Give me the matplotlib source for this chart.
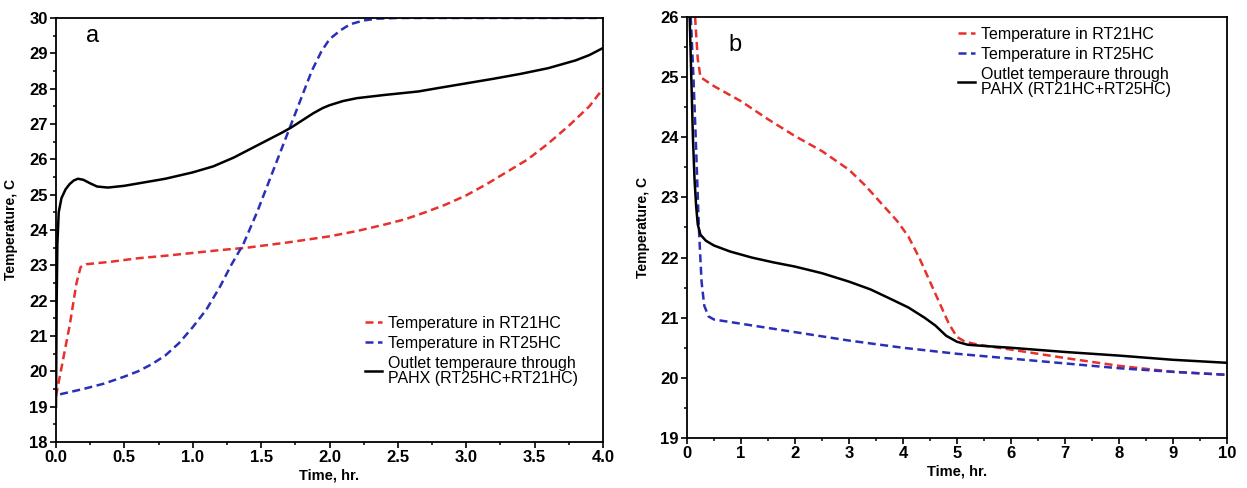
import matplotlib
matplotlib.use("Agg")
import matplotlib.pyplot as plt
from matplotlib.ticker import MultipleLocator, AutoMinorLocator

plt.rcParams['font.family'] = ['Liberation Sans', 'DejaVu Sans']

# --- (a) charging: time [hr] vs temperature [C] ---
t_a_black = [0.0, 0.005, 0.01, 0.02, 0.04, 0.07, 0.1, 0.13, 0.16, 0.2, 0.25, 0.3, 0.38, 0.5, 0.65,
             0.8, 1.0, 1.15, 1.3, 1.45, 1.55, 1.65, 1.72, 1.8, 1.88, 1.95, 2.0, 2.1, 2.2, 2.4,
             2.65, 2.8, 3.0, 3.2, 3.4, 3.6, 3.8, 3.9, 4.0]
T_a_black = [19.0, 22.0, 23.6, 24.5, 24.9, 25.15, 25.3, 25.4, 25.45, 25.42, 25.32, 25.23, 25.2, 25.25, 25.35,
             25.45, 25.63, 25.8, 26.05, 26.35, 26.55, 26.75, 26.9, 27.1, 27.3, 27.45, 27.53, 27.65, 27.73, 27.82,
             27.92, 28.02, 28.15, 28.28, 28.42, 28.58, 28.8, 28.95, 29.15]

t_a_red = [0.0, 0.05, 0.1, 0.15, 0.18, 0.22, 0.4, 0.6, 0.8, 1.0, 1.2, 1.4, 1.7, 2.0, 2.2, 2.4, 2.55,
           2.7, 2.85, 3.0, 3.15, 3.3, 3.45, 3.6, 3.75, 3.9, 4.0]
T_a_red = [19.3, 20.3, 21.3, 22.5, 22.95, 23.03, 23.1, 23.2, 23.27, 23.35, 23.43, 23.5, 23.65, 23.82, 23.97, 24.15, 24.3,
           24.5, 24.72, 24.98, 25.3, 25.65, 26.0, 26.45, 26.95, 27.5, 28.0]

t_a_blue = [0.03, 0.2, 0.35, 0.5, 0.6, 0.7, 0.8, 0.9, 1.0, 1.1, 1.2, 1.28, 1.37, 1.47, 1.57,
            1.67, 1.73, 1.8, 1.87, 1.94, 2.0, 2.08, 2.15, 2.25, 2.35, 2.5, 3.0, 4.0]
T_a_blue = [19.35, 19.5, 19.65, 19.85, 20.0, 20.2, 20.45, 20.8, 21.25, 21.75, 22.4, 23.0, 23.6, 24.5, 25.5,
            26.5, 27.1, 27.8, 28.5, 29.05, 29.4, 29.65, 29.82, 29.93, 29.98, 30.0, 30.0, 30.0]

# --- (b) discharging ---
t_b_black = [0.05, 0.08, 0.11, 0.14, 0.17, 0.2, 0.25, 0.35, 0.5, 0.8, 1.2, 1.6, 2.0, 2.5, 3.0, 3.4,
             3.8, 4.1, 4.4, 4.6, 4.8, 5.0, 5.2, 5.5, 6.0, 7.0, 8.0, 9.0, 10.0]
T_b_black = [26.0, 25.0, 24.0, 23.3, 22.85, 22.55, 22.38, 22.28, 22.2, 22.1, 22.0, 21.92, 21.85, 21.74, 21.6, 21.47,
             21.3, 21.17, 21.0, 20.87, 20.7, 20.6, 20.55, 20.53, 20.5, 20.43, 20.37, 20.3, 20.25]

t_b_red = [0.15, 0.2, 0.25, 0.5, 1.0, 1.5, 2.0, 2.5, 3.0, 3.3, 3.6, 3.9, 4.1, 4.3, 4.5, 4.7,
           4.85, 5.0, 5.15, 5.4, 6.0, 7.0, 8.0, 9.0, 10.0]
T_b_red = [26.0, 25.3, 25.0, 24.85, 24.6, 24.3, 24.02, 23.77, 23.46, 23.2, 22.9, 22.6, 22.35, 22.0, 21.6, 21.2,
           20.9, 20.68, 20.6, 20.55, 20.47, 20.33, 20.2, 20.1, 20.05]

t_b_blue = [0.07, 0.12, 0.17, 0.22, 0.27, 0.32, 0.4, 0.5, 1.0, 2.0, 3.0, 4.0, 5.0, 6.0, 7.0, 8.0, 9.0, 10.0]
T_b_blue = [26.0, 25.0, 23.8, 22.5, 21.6, 21.2, 21.02, 20.97, 20.9, 20.76, 20.62, 20.5, 20.4, 20.32, 20.24, 20.16, 20.1, 20.05]

RED = '#e8302c'
BLUE = '#2a2fb8'
DASH = (0, (3.2, 1.8))

fig = plt.figure(figsize=(12.47, 4.88), dpi=100)
ax1 = fig.add_axes([0.0449, 0.0943, 0.4387, 0.8689])
ax2 = fig.add_axes([0.5509, 0.1025, 0.4330, 0.8627])


def style_axis(ax, xlabel_y):
    for sp in ax.spines.values():
        sp.set_linewidth(1.3)
    ax.tick_params(which='major', direction='out', length=4, width=1.2, labelsize=12, pad=2)
    ax.tick_params(which='minor', direction='out', length=2.5, width=1.1)
    for lbl in ax.get_xticklabels() + ax.get_yticklabels():
        lbl.set_fontweight('bold')
    ax.set_xlabel('Time, hr.', fontsize=10.5, fontweight='bold')
    ax.set_ylabel('Temperature, C', fontsize=10, fontweight='bold')
    ax.xaxis.set_label_coords(0.5, xlabel_y)
    ax.yaxis.set_label_coords(-0.069, 0.5)


def add_legend(ax, anchor):
    leg = ax.legend(loc='upper left', bbox_to_anchor=anchor, bbox_transform=fig.transFigure,
                    frameon=False, fontsize=11.5, handlelength=1.05, handletextpad=0.4,
                    labelspacing=0.3, borderpad=0, borderaxespad=0)
    leg.get_texts()[2].set_linespacing(1.05)
    return leg


# panel a
ax1.plot(t_a_red, T_a_red, color=RED, lw=1.8, ls=DASH, label='Temperature in RT21HC')
ax1.plot(t_a_blue, T_a_blue, color=BLUE, lw=1.8, ls=DASH, label='Temperature in RT25HC')
ax1.plot(t_a_black, T_a_black, color='black', lw=1.8,
         label='Outlet temperaure through\nPAHX (RT25HC+RT21HC)')
ax1.set_xlim(0, 4.0)
ax1.set_ylim(18, 30)
ax1.xaxis.set_major_locator(MultipleLocator(0.5))
ax1.xaxis.set_minor_locator(AutoMinorLocator(2))
ax1.yaxis.set_major_locator(MultipleLocator(1))
ax1.yaxis.set_minor_locator(AutoMinorLocator(2))
ax1.xaxis.set_major_formatter(plt.FormatStrFormatter('%.1f'))
style_axis(ax1, -0.062)
ax1.text(0.066, 0.958, 'a', transform=ax1.transAxes, fontsize=17, ha='center', va='center')
add_legend(ax1, (0.2927, 0.3525))

# panel b
ax2.plot(t_b_red, T_b_red, color=RED, lw=1.8, ls=DASH, label='Temperature in RT21HC')
ax2.plot(t_b_blue, T_b_blue, color=BLUE, lw=1.8, ls=DASH, label='Temperature in RT25HC')
ax2.plot(t_b_black, T_b_black, color='black', lw=1.8,
         label='Outlet temperaure through\nPAHX (RT21HC+RT25HC)')
ax2.set_xlim(0, 10)
ax2.set_ylim(19, 26)
ax2.xaxis.set_major_locator(MultipleLocator(1))
ax2.xaxis.set_minor_locator(AutoMinorLocator(2))
ax2.yaxis.set_major_locator(MultipleLocator(1))
ax2.yaxis.set_minor_locator(AutoMinorLocator(2))
style_axis(ax2, -0.064)
ax2.text(0.089, 0.933, 'b', transform=ax2.transAxes, fontsize=17, ha='center', va='center')
add_legend(ax2, (0.7682, 0.9447))

fig.savefig('out.png', dpi=100)
